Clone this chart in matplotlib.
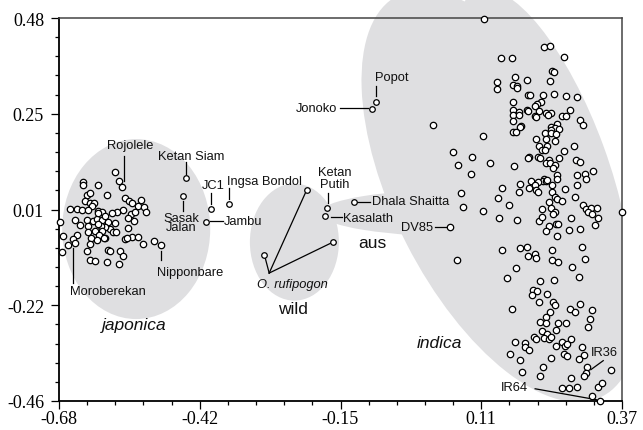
import numpy as np
import matplotlib
matplotlib.use('Agg')
import matplotlib.pyplot as plt
from matplotlib.patches import Ellipse, Rectangle
from matplotlib.transforms import ScaledTranslation
from matplotlib.ticker import AutoMinorLocator

# ---------------- data ----------------
x_ticks = [-0.68, -0.4175, -0.155, 0.1075, 0.37]
x_tick_labels = ['-0.68', '-0.42', '-0.15', '0.11', '0.37']
y_ticks = [0.48, 0.245, 0.01, -0.225, -0.46]
y_tick_labels = ['0.48', '0.25', '0.01', '-0.22', '-0.46']

japonica_x = [-0.576, -0.569, -0.563, -0.635, -0.636, -0.607, -0.591, -0.627, -0.623, -0.632,
              -0.622, -0.614, -0.618, -0.660, -0.647, -0.638, -0.625, -0.608, -0.600, -0.557,
              -0.549, -0.543, -0.528, -0.532, -0.521, -0.518, -0.561, -0.571, -0.582, -0.546,
              -0.539, -0.540, -0.551, -0.679, -0.651, -0.641, -0.628, -0.625, -0.616, -0.609,
              -0.600, -0.608, -0.594, -0.588, -0.576, -0.585, -0.594, -0.602, -0.607, -0.552,
              -0.625, -0.613, -0.599, -0.605, -0.595, -0.579, -0.574, -0.673, -0.647, -0.653,
              -0.664, -0.675, -0.650, -0.620, -0.610, -0.597, -0.557, -0.544, -0.532, -0.554,
              -0.523, -0.502, -0.490, -0.623, -0.628, -0.588, -0.585, -0.566, -0.560, -0.622,
              -0.613, -0.591, -0.569]
japonica_y = [0.101, 0.081, 0.065, 0.078, 0.069, 0.071, 0.046, 0.046, 0.050, 0.030,
              0.027, 0.025, 0.019, 0.011, 0.011, 0.010, 0.010, 0.007, 0.005, 0.037,
              0.031, 0.027, 0.034, 0.019, 0.017, 0.005, 0.008, 0.003, 0.001, -0.001,
              0.003, -0.019, -0.011, -0.021, -0.016, -0.027, -0.016, -0.030, -0.017, -0.013,
              -0.016, 0.001, -0.005, -0.021, -0.023, -0.038, -0.034, -0.030, -0.026, -0.036,
              -0.046, -0.042, -0.043, -0.052, -0.061, -0.044, -0.044, -0.054, -0.052, -0.062,
              -0.077, -0.095, -0.072, -0.061, -0.066, -0.061, -0.062, -0.057, -0.057, -0.061,
              -0.075, -0.068, -0.077, -0.075, -0.091, -0.089, -0.093, -0.091, -0.105, -0.113,
              -0.117, -0.120, -0.123]

indica_x = [0.113, 0.225, 0.235, 0.144, 0.165, 0.261, 0.239, 0.243, 0.171, 0.136,
            0.136, 0.166, 0.175, 0.174, 0.192, 0.235, 0.194, 0.199, 0.222, 0.243,
            0.266, 0.287, 0.166, 0.219, 0.212, 0.207, 0.216, 0.167, 0.166, 0.177,
            0.178, 0.192, 0.195, 0.207, 0.209, 0.228, 0.237, 0.232, 0.258, 0.265,
            0.273, 0.292, 0.298, 0.167, 0.181, 0.179, 0.166, 0.173, 0.111, 0.248,
            0.238, 0.245, 0.237, 0.227, 0.238, 0.252, 0.247, 0.210, 0.228, 0.245,
            # second band
            0.216, 0.231, 0.220, 0.226, 0.281, 0.261, 0.253, 0.054, 0.091, 0.065,
            0.124, 0.169, 0.089, 0.197, 0.194, 0.213, 0.217, 0.233, 0.228, 0.236,
            0.245, 0.242, 0.284, 0.292, 0.316, 0.287, 0.301, 0.302, 0.248, 0.248,
            0.225, 0.223, 0.228, 0.230, 0.214, 0.200, 0.208, 0.197, 0.209, 0.213,
            0.240, 0.239, 0.263, 0.287, 0.180, 0.178, 0.147, 0.138, 0.069, 0.074,
            0.111, 0.159, 0.233, 0.237, 0.245, 0.248, 0.258, 0.282, 0.220, 0.245,
            0.242, 0.297, 0.303, 0.312, 0.323, 0.307, 0.314, 0.325, 0.319, 0.141,
            0.175, 0.216, 0.221, 0.233, 0.246, 0.250, 0.228, 0.248, 0.274, 0.272,
            0.291, 0.049, 0.370, 0.147, 0.180, 0.192, 0.194, 0.208, 0.209, 0.239,
            0.240, 0.251, 0.295, 0.301, 0.062, 0.172, 0.276, 0.018,
            # lower band
            0.155, 0.217, 0.244, 0.289, 0.204, 0.211, 0.203, 0.216, 0.230, 0.242,
            0.245, 0.165, 0.236, 0.228, 0.273, 0.283, 0.291, 0.314, 0.310, 0.306,
            0.217, 0.228, 0.220, 0.231, 0.251, 0.266, 0.247, 0.206, 0.210, 0.225,
            0.233, 0.238, 0.170, 0.190, 0.189, 0.197, 0.247, 0.258, 0.263, 0.268,
            0.274, 0.261, 0.268, 0.295, 0.300, 0.289, 0.162, 0.180, 0.237, 0.184,
            0.218, 0.223, 0.275, 0.305, 0.302, 0.299, 0.349, 0.258, 0.271, 0.287,
            0.325, 0.333, 0.314, 0.329]
indica_y = [0.478, 0.410, 0.412, 0.381, 0.381, 0.385, 0.351, 0.348, 0.335, 0.323,
            0.305, 0.315, 0.314, 0.307, 0.328, 0.325, 0.291, 0.291, 0.290, 0.294,
            0.288, 0.285, 0.273, 0.273, 0.269, 0.264, 0.252, 0.254, 0.242, 0.250,
            0.241, 0.253, 0.252, 0.240, 0.237, 0.247, 0.248, 0.241, 0.240, 0.240,
            0.253, 0.230, 0.217, 0.226, 0.216, 0.213, 0.199, 0.201, 0.190, 0.221,
            0.212, 0.209, 0.204, 0.198, 0.198, 0.207, 0.195, 0.183, 0.183, 0.177,
            # second band
            0.167, 0.165, 0.157, 0.155, 0.166, 0.154, 0.137, 0.152, 0.138, 0.120,
            0.124, 0.116, 0.097, 0.140, 0.136, 0.138, 0.136, 0.131, 0.123, 0.123,
            0.118, 0.111, 0.132, 0.126, 0.105, 0.095, 0.097, 0.084, 0.095, 0.085,
            0.084, 0.080, 0.081, 0.083, 0.077, 0.080, 0.071, 0.063, 0.059, 0.052,
            0.069, 0.052, 0.060, 0.069, 0.073, 0.052, 0.063, 0.038, 0.050, 0.015,
            0.006, 0.022, 0.029, 0.013, 0.041, 0.036, 0.031, 0.040, 0.011, 0.005,
            -0.001, 0.020, 0.011, 0.014, 0.014, 0.005, 0.000, -0.011, -0.027, -0.012,
            -0.016, -0.018, -0.009, -0.030, -0.025, -0.025, -0.043, -0.056, -0.011, -0.040,
            -0.038, -0.034, 0.004, -0.089, -0.085, -0.081, -0.105, -0.098, -0.108, -0.089,
            -0.113, -0.118, -0.081, -0.111, -0.113, -0.133, -0.131, 0.217,
            # lower band
            -0.159, -0.166, -0.163, -0.155, -0.187, -0.191, -0.200, -0.216, -0.197, -0.218,
            -0.224, -0.233, -0.242, -0.255, -0.233, -0.241, -0.222, -0.236, -0.259, -0.279,
            -0.265, -0.269, -0.287, -0.296, -0.269, -0.269, -0.285, -0.302, -0.309, -0.305,
            -0.309, -0.303, -0.314, -0.318, -0.327, -0.336, -0.326, -0.314, -0.324, -0.321,
            -0.308, -0.344, -0.349, -0.327, -0.348, -0.357, -0.344, -0.359, -0.355, -0.390,
            -0.399, -0.376, -0.403, -0.376, -0.392, -0.399, -0.385, -0.427, -0.427, -0.426,
            -0.426, -0.417, -0.447, -0.459]

# labelled accessions outside the main clusters
other_names = ['Popot', 'Jonoko', 'Ketan Siam', 'Sasak Jalan', 'JC1', 'Ingsa Bondol',
               'Jambu', 'Ketan Putih', 'Kasalath', 'Dhala Shaitta']
other_x = [-0.089, -0.096, -0.443, -0.449, -0.396, -0.363, -0.406, -0.180, -0.184, -0.130]
other_y = [0.273, 0.257, 0.087, 0.044, 0.011, 0.023, -0.020, 0.013, -0.007, 0.028]

rufipogon_x = [-0.218, -0.297, -0.169]
rufipogon_y = [0.058, -0.101, -0.070]

# ---------------- figure ----------------
fig = plt.figure(figsize=(6.43, 4.31), dpi=100)
ax = fig.add_axes([59/643, 1-402/431, 563/643, 383/431])
ax.set_xlim(-0.68, 0.37)
ax.set_ylim(-0.46, 0.48)

gray = '#dfdfe1'

def blob(cx, cy, w_in, h_in, angle=0, clip=None):
    tr = fig.dpi_scale_trans + ScaledTranslation(cx, cy, ax.transData)
    e = Ellipse((0, 0), w_in, h_in, angle=angle, transform=tr,
                facecolor=gray, edgecolor='none', zorder=0.5)
    ax.add_patch(e)
    e.set_clip_on(False)
    if clip is not None:
        e.set_clip_on(True)
        e.set_clip_path(clip)
    return e

blob(-0.536, -0.038, 1.48, 1.80)
blob(-0.241, -0.070, 0.89, 1.17)
blob(0.0865, 0.0015, 3.0, 0.48)
clip_rect = Rectangle((-1.0, -0.46), 1.37, 2.0, transform=ax.transData)
blob(0.1425, 0.0432, 2.10, 4.50, angle=27, clip=clip_rect)
blob(0.2220, 0.1094, 1.30, 3.80, angle=20, clip=clip_rect)

mk = dict(marker='o', linestyle='none', mfc='white', mec='black', zorder=4, clip_on=False)
ax.plot(japonica_x, japonica_y, ms=4.6, mew=0.9, **mk)
ax.plot(indica_x, indica_y, ms=4.6, mew=0.9, **mk)
ax.plot(other_x, other_y, ms=4.0, mew=0.9, **mk)
ax.plot(rufipogon_x, rufipogon_y, ms=4.0, mew=0.9, **mk)

# ---------------- annotations ----------------
lab = dict(fontsize=9.3, family='Liberation Sans', color='#111111', zorder=5)
lk = dict(color='black', lw=0.9, zorder=3, clip_on=False)

def seg(x0, y0, x1, y1):
    ax.plot([x0, x1], [y0, y1], **lk)

# Popot / Jonoko
ax.text(-0.091, 0.335, 'Popot', ha='left', va='center', **lab)
seg(-0.089, 0.313, -0.089, 0.289)
ax.text(-0.161, 0.259, 'Jonoko', ha='right', va='center', **lab)
seg(-0.156, 0.259, -0.104, 0.259)
# japonica side
ax.text(-0.548, 0.168, 'Rojolele', ha='center', va='center', **lab)
seg(-0.559, 0.142, -0.559, 0.081)
ax.text(-0.433, 0.142, 'Ketan Siam', ha='center', va='center', **lab)
seg(-0.444, 0.127, -0.444, 0.097)
ax.text(-0.452, -0.022, 'Sasak\nJalan', ha='center', va='center', multialignment='center',
        linespacing=0.72, **lab)
seg(-0.449, 0.032, -0.449, 0.007)
ax.text(-0.392, 0.070, 'JC1', ha='center', va='center', **lab)
seg(-0.397, 0.051, -0.397, 0.024)
ax.text(-0.367, 0.081, 'Ingsa Bondol', ha='left', va='center', **lab)
seg(-0.363, 0.063, -0.363, 0.036)
ax.text(-0.372, -0.017, 'Jambu', ha='left', va='center', **lab)
seg(-0.398, -0.019, -0.375, -0.019)
ax.text(-0.435, -0.143, 'Nipponbare', ha='center', va='center', **lab)
seg(-0.490, -0.091, -0.490, -0.114)
ax.text(-0.588, -0.189, 'Moroberekan', ha='center', va='center', **lab)
seg(-0.654, -0.085, -0.654, -0.170)
# wild / aus
ax.text(-0.165, 0.087, 'Ketan\nPutih', ha='center', va='center', multialignment='center',
        linespacing=1.0, **lab)
seg(-0.179, 0.051, -0.179, 0.026)
ax.text(-0.150, -0.010, 'Kasalath', ha='left', va='center', **lab)
seg(-0.173, -0.008, -0.153, -0.008)
ax.text(-0.097, 0.030, 'Dhala Shaitta', ha='left', va='center', **lab)
seg(-0.124, 0.029, -0.100, 0.029)
ax.text(0.018, -0.034, 'DV85', ha='right', va='center', **lab)
seg(0.021, -0.034, 0.043, -0.034)
for rx, ry in zip(rufipogon_x, rufipogon_y):
    seg(-0.288, -0.146, rx, ry)
ax.text(-0.245, -0.173, 'O. rufipogon', ha='center', va='center', style='italic', **lab)
# indica side
ax.text(0.338, -0.340, 'IR36', ha='center', va='center', **lab)
seg(0.335, -0.361, 0.312, -0.383)
ax.text(0.170, -0.426, 'IR64', ha='center', va='center', **lab)
seg(0.208, -0.430, 0.323, -0.457)

# group names
grp = dict(fontsize=12.5, family='Liberation Sans', color='#111111', ha='center', va='center', zorder=5)
ax.text(-0.540, -0.273, 'japonica', style='italic', **grp)
ax.text(-0.244, -0.232, 'wild', **grp)
ax.text(-0.095, -0.070, 'aus', **grp)
ax.text(0.029, -0.316, 'indica', style='italic', **grp)

# ---------------- axes styling ----------------
ax.set_xticks(x_ticks)
ax.set_xticklabels(x_tick_labels)
ax.set_yticks(y_ticks)
ax.set_yticklabels(y_tick_labels)
ax.xaxis.set_minor_locator(AutoMinorLocator(5))
ax.yaxis.set_minor_locator(AutoMinorLocator(5))
ax.tick_params(which='major', length=5.8, width=0.9, direction='out', color='black')
ax.tick_params(which='minor', length=2.9, width=0.9, direction='out', color='black')
ax.tick_params(axis='x', pad=1.0)
ax.tick_params(axis='y', pad=5.0)
for t in ax.get_xticklabels() + ax.get_yticklabels():
    t.set_fontfamily('Liberation Serif')
    t.set_fontsize(13)
for s in ['left', 'bottom']:
    ax.spines[s].set_linewidth(1.3)
    ax.spines[s].set_color('black')
for s in ['top', 'right']:
    ax.spines[s].set_linewidth(1.1)
    ax.spines[s].set_color('#444444')
ax.patch.set_alpha(0)

fig.savefig('out.png', dpi=100)
